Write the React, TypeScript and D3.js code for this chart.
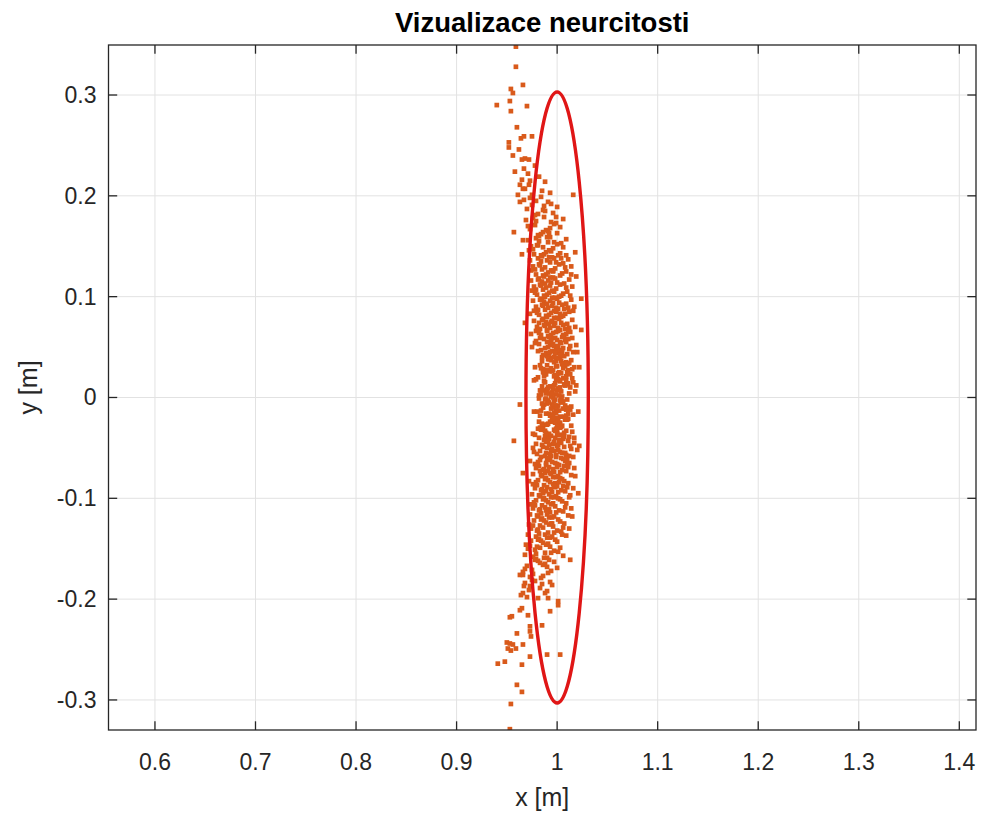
import React from "react";
import * as d3 from "d3";

// ---- Axis configuration (data units) ----
const xLimits: [number, number] = [0.5538, 1.4166];
const yLimits: [number, number] = [-0.3298, 0.3496];
const xTicks = [0.6, 0.7, 0.8, 0.9, 1.0, 1.1, 1.2, 1.3, 1.4];
const xTickLabels = ["0.6", "0.7", "0.8", "0.9", "1", "1.1", "1.2", "1.3", "1.4"];
const yTicks = [-0.3, -0.2, -0.1, 0, 0.1, 0.2, 0.3];
const yTickLabels = ["-0.3", "-0.2", "-0.1", "0", "0.1", "0.2", "0.3"];

const titleText = "Vizualizace neurcitosti";
const xLabelText = "x [m]";
const yLabelText = "y [m]";

// ---- Uncertainty ellipse ----
const ellipseCenter: [number, number] = [1.0, 0.0];
const ellipseRadii: [number, number] = [0.031, 0.303];

// ---- Scatter samples [x, y] in metres ----
const coreUpper: [number, number][] = [
  [0.994,0.001],[1.007,0.013],[0.986,0.007],[0.999,0.018],[1.012,0.004],[0.991,0.010],[1.003,0.016],[0.982,0.002],[1.008,0.012],[0.996,0.008],
  [1.015,0.019],[0.989,0.005],[0.998,0.014],[1.004,0.000],[0.993,0.011],[1.009,0.017],[0.984,0.003],[1.001,0.009],[0.988,0.015],[1.018,0.006],
  [0.997,0.012],[1.005,0.001],[0.979,0.018],[1.000,0.007],[1.010,0.013],[0.992,0.004],[1.013,0.010],[0.987,0.016],[1.002,0.002],[0.990,0.008],
  [1.006,0.019],[0.995,0.005],[1.011,0.014],[0.985,0.011],[0.999,0.003],[0.977,0.017],[1.004,0.006],[0.991,0.009],[1.016,0.015],[0.996,0.000],
  [1.008,0.012],[0.983,0.007],[1.001,0.018],[0.989,0.004],[1.003,0.010],
  [1.004,0.036],[0.988,0.023],[1.000,0.031],[1.011,0.027],[0.993,0.039],[0.997,0.021],[1.007,0.034],[0.984,0.029],[1.002,0.025],[1.014,0.037],
  [0.990,0.032],[0.998,0.022],[0.986,0.028],[1.009,0.035],[1.001,0.024],[0.992,0.038],[1.017,0.030],[0.995,0.026],[1.005,0.033],[0.981,0.020],
  [0.999,0.036],[1.008,0.031],[0.989,0.023],[1.003,0.039],[0.996,0.027],[1.012,0.034],[0.987,0.021],[1.006,0.029],[0.994,0.037],[1.010,0.025],
  [0.983,0.032],[1.000,0.022],[0.991,0.038],[1.015,0.028],[0.997,0.035],[1.004,0.024],[0.978,0.030],[1.007,0.033],[0.993,0.026],[1.001,0.039],
  [1.009,0.021],[0.985,0.036],[0.999,0.031],[0.990,0.027],[1.013,0.023],
  [0.990,0.041],[1.003,0.055],[0.984,0.047],[0.998,0.059],[1.010,0.043],[0.993,0.052],[1.006,0.049],[0.979,0.056],[1.001,0.044],[0.987,0.058],
  [1.013,0.051],[0.995,0.046],[0.982,0.053],[1.008,0.057],[0.997,0.040],[0.991,0.050],[1.016,0.045],[0.986,0.042],[1.004,0.054],[0.999,0.048],
  [0.975,0.050],[1.011,0.058],[0.994,0.056],[0.989,0.044],[1.007,0.041],[0.996,0.053],[1.002,0.047],[0.983,0.059],[1.019,0.052],[0.992,0.043],
  [1.000,0.057],[0.988,0.049],[1.005,0.045],[0.978,0.054],[0.997,0.051],[1.012,0.048],[0.985,0.040],[1.009,0.055],[0.994,0.058],[0.981,0.046],
  [1.003,0.042],[0.990,0.055],[1.015,0.059],[0.998,0.044],
  [0.991,0.061],[1.004,0.074],[0.983,0.068],[0.997,0.079],[1.009,0.063],[0.988,0.071],[1.001,0.066],[0.977,0.076],[1.012,0.069],[0.994,0.062],
  [0.986,0.078],[1.006,0.072],[0.999,0.065],[0.980,0.070],[1.015,0.077],[0.992,0.060],[1.003,0.067],[0.989,0.075],[0.996,0.064],[1.010,0.073],
  [0.984,0.062],[1.000,0.079],[0.993,0.069],[1.007,0.061],[0.979,0.066],[0.998,0.074],[1.013,0.065],[0.987,0.072],[1.002,0.078],[0.990,0.067],
  [1.018,0.070],[0.995,0.076],[0.982,0.064],[1.005,0.060],[0.997,0.071],[0.985,0.077],[1.008,0.068],[0.992,0.073],[0.974,0.063],[1.001,0.069],
  [0.994,0.075],[1.011,0.066],
  [0.989,0.081],[1.002,0.094],[0.981,0.087],[0.995,0.099],[1.008,0.083],[0.986,0.091],[0.999,0.085],[0.976,0.096],[1.011,0.089],[0.992,0.082],
  [0.984,0.098],[1.005,0.092],[0.997,0.086],[0.979,0.090],[1.014,0.097],[0.990,0.080],[1.001,0.088],[0.987,0.095],[0.994,0.084],[1.009,0.093],
  [0.982,0.082],[0.998,0.099],[0.991,0.089],[1.006,0.081],[0.977,0.086],[0.996,0.094],[1.012,0.085],[0.985,0.092],[1.000,0.098],[0.988,0.087],
  [1.017,0.090],[0.993,0.096],[0.980,0.084],[1.004,0.080],[0.995,0.091],[0.983,0.097],[1.007,0.088],[0.990,0.093],[0.973,0.083],[0.999,0.089],
  [0.987,0.101],[1.000,0.114],[0.979,0.107],[0.993,0.119],[1.006,0.103],[0.984,0.111],[0.997,0.105],[0.974,0.116],[1.009,0.109],[0.990,0.102],
  [0.982,0.118],[1.003,0.112],[0.995,0.106],[0.977,0.110],[1.012,0.117],[0.988,0.100],[0.999,0.108],[0.985,0.115],[0.992,0.104],[1.007,0.113],
  [0.980,0.102],[0.996,0.119],[0.989,0.109],[1.004,0.101],[0.975,0.106],[0.994,0.114],[1.010,0.105],[0.983,0.112],[0.998,0.118],[0.986,0.107],
  [1.015,0.110],[0.991,0.116],[0.978,0.104],[1.002,0.100],[0.993,0.111],[0.981,0.117],
  [0.986,0.121],[0.999,0.134],[0.978,0.127],[0.992,0.139],[1.005,0.123],[0.983,0.131],[0.996,0.125],[0.973,0.136],[1.008,0.129],[0.989,0.122],
  [0.981,0.138],[1.002,0.132],[0.994,0.126],[0.976,0.130],[1.011,0.137],[0.987,0.120],[0.998,0.128],[0.984,0.135],[0.991,0.124],[1.006,0.133],
  [0.979,0.122],[0.995,0.139],[0.988,0.129],[1.003,0.121],[0.974,0.126],[0.993,0.134],[1.009,0.125],[0.982,0.132],[0.997,0.138],[0.985,0.127],
  [1.014,0.130],[0.990,0.136],
  [0.984,0.141],[0.997,0.154],[0.976,0.147],[0.990,0.159],[1.003,0.143],[0.981,0.151],[0.994,0.145],[0.971,0.156],[1.006,0.149],[0.987,0.142],
  [0.979,0.158],[1.000,0.152],[0.992,0.146],[0.974,0.150],[1.009,0.157],[0.985,0.140],[0.996,0.148],[0.982,0.155],[0.989,0.144],[1.004,0.153],
  [0.977,0.142],[0.993,0.159],[0.986,0.149],[1.001,0.141],[0.972,0.146],[0.991,0.154],
  [0.981,0.161],[0.994,0.174],[0.973,0.167],[0.987,0.179],[1.000,0.163],[0.978,0.171],[0.991,0.165],[0.969,0.176],[1.003,0.169],[0.984,0.162],
  [0.976,0.178],[0.997,0.172],[0.989,0.166],[0.971,0.170],[1.006,0.177],[0.982,0.160],[0.993,0.168],[0.979,0.175],[0.986,0.164],[0.999,0.173],
  [0.978,0.181],[0.991,0.194],[0.970,0.187],[0.984,0.199],[0.996,0.183],[0.975,0.191],[0.988,0.185],[0.967,0.196],[1.000,0.189],[0.981,0.182],
  [0.973,0.198],[0.994,0.192],[0.986,0.186],[0.979,0.195],
  [0.975,0.201],[0.988,0.214],[0.968,0.207],[0.982,0.219],[0.993,0.203],[0.972,0.211],[0.985,0.205],[0.965,0.216],
];

const coreLower: [number, number][] = [
  [1.003,-0.019],[0.987,-0.007],[0.999,-0.013],[1.010,-0.002],[0.992,-0.016],[0.996,-0.010],[1.006,-0.004],[0.983,-0.018],[1.001,-0.008],[1.013,-0.012],
  [0.989,-0.001],[0.997,-0.015],[0.985,-0.006],[1.008,-0.020],[1.000,-0.009],[0.991,-0.003],[1.016,-0.017],[0.994,-0.011],[1.004,-0.005],[0.980,-0.014],
  [0.998,-0.008],[1.007,-0.019],[0.988,-0.002],[1.002,-0.013],[0.995,-0.007],[1.011,-0.016],[0.986,-0.010],[1.005,-0.004],[0.993,-0.018],[1.009,-0.012],
  [0.982,-0.001],[0.999,-0.015],[0.990,-0.006],[1.014,-0.009],[0.996,-0.017],[1.003,-0.003],[0.977,-0.014],[1.006,-0.011],[0.992,-0.005],[1.000,-0.020],
  [1.008,-0.008],[0.984,-0.013],[0.998,-0.002],[0.989,-0.016],[1.012,-0.010],
  [0.993,-0.024],[1.006,-0.037],[0.985,-0.029],[0.998,-0.033],[1.011,-0.021],[0.990,-0.039],[1.002,-0.026],[0.981,-0.031],[1.007,-0.035],[0.995,-0.023],
  [1.014,-0.028],[0.988,-0.038],[0.997,-0.032],[1.003,-0.025],[0.992,-0.036],[1.008,-0.022],[0.983,-0.030],[1.000,-0.034],[0.987,-0.027],[1.017,-0.040],
  [0.996,-0.024],[1.004,-0.029],[0.978,-0.037],[0.999,-0.021],[1.009,-0.033],[0.991,-0.026],[1.012,-0.039],[0.986,-0.031],[1.001,-0.023],[0.989,-0.035],
  [1.005,-0.028],[0.994,-0.038],[1.010,-0.022],[0.984,-0.032],[0.998,-0.025],[0.976,-0.036],[1.003,-0.030],[0.990,-0.027],[1.015,-0.034],[0.995,-0.021],
  [1.007,-0.039],[0.982,-0.024],[1.000,-0.029],[0.988,-0.033],[1.002,-0.037],
  [0.992,-0.041],[1.005,-0.055],[0.985,-0.047],[0.999,-0.059],[1.011,-0.043],[0.994,-0.052],[1.007,-0.049],[0.980,-0.056],[1.002,-0.044],[0.988,-0.058],
  [1.014,-0.051],[0.996,-0.046],[0.983,-0.053],[1.009,-0.057],[0.998,-0.040],[0.990,-0.050],[1.017,-0.045],[0.987,-0.042],[1.003,-0.054],[1.000,-0.048],
  [0.976,-0.050],[1.012,-0.058],[0.993,-0.056],[0.989,-0.044],[1.006,-0.041],[0.997,-0.053],[1.001,-0.047],[0.984,-0.059],[1.020,-0.052],[0.991,-0.043],
  [0.999,-0.057],[0.986,-0.049],[1.004,-0.045],[0.977,-0.054],[0.995,-0.051],[1.013,-0.048],[0.982,-0.040],[1.008,-0.055],[0.994,-0.058],[0.979,-0.046],
  [1.002,-0.042],[0.989,-0.055],[1.016,-0.059],[0.997,-0.044],
  [0.990,-0.061],[1.003,-0.074],[0.982,-0.068],[0.996,-0.079],[1.008,-0.063],[0.987,-0.071],[1.000,-0.066],[0.976,-0.076],[1.011,-0.069],[0.993,-0.062],
  [0.985,-0.078],[1.005,-0.072],[0.998,-0.065],[0.979,-0.070],[1.014,-0.077],[0.991,-0.060],[1.002,-0.067],[0.988,-0.075],[0.995,-0.064],[1.009,-0.073],
  [0.983,-0.062],[0.999,-0.079],[0.992,-0.069],[1.006,-0.061],[0.978,-0.066],[0.997,-0.074],[1.012,-0.065],[0.986,-0.072],[1.001,-0.078],[0.989,-0.067],
  [1.017,-0.070],[0.994,-0.076],[0.981,-0.064],[1.004,-0.060],[0.996,-0.071],[0.984,-0.077],[1.007,-0.068],[0.991,-0.073],[0.973,-0.063],[1.000,-0.069],
  [0.993,-0.075],[1.010,-0.066],
  [0.988,-0.081],[1.001,-0.094],[0.980,-0.087],[0.994,-0.099],[1.007,-0.083],[0.985,-0.091],[0.998,-0.085],[0.975,-0.096],[1.010,-0.089],[0.991,-0.082],
  [0.983,-0.098],[1.004,-0.092],[0.996,-0.086],[0.978,-0.090],[1.013,-0.097],[0.989,-0.080],[1.000,-0.088],[0.986,-0.095],[0.993,-0.084],[1.008,-0.093],
  [0.981,-0.082],[0.997,-0.099],[0.990,-0.089],[1.005,-0.081],[0.976,-0.086],[0.995,-0.094],[1.011,-0.085],[0.984,-0.092],[0.999,-0.098],[0.987,-0.087],
  [1.016,-0.090],[0.992,-0.096],[0.979,-0.084],[1.003,-0.080],[0.994,-0.091],[0.982,-0.097],[1.006,-0.088],[0.989,-0.093],[0.972,-0.083],[0.998,-0.089],
  [0.986,-0.101],[0.999,-0.114],[0.978,-0.107],[0.992,-0.119],[1.005,-0.103],[0.983,-0.111],[0.996,-0.105],[0.973,-0.116],[1.008,-0.109],[0.989,-0.102],
  [0.981,-0.118],[1.002,-0.112],[0.994,-0.106],[0.976,-0.110],[1.011,-0.117],[0.987,-0.100],[0.998,-0.108],[0.984,-0.115],[0.991,-0.104],[1.006,-0.113],
  [0.979,-0.102],[0.995,-0.119],[0.988,-0.109],[1.003,-0.101],[0.974,-0.106],[0.993,-0.114],[1.009,-0.105],[0.982,-0.112],[0.997,-0.118],[0.985,-0.107],
  [1.014,-0.110],[0.990,-0.116],[0.977,-0.104],[1.001,-0.100],[0.992,-0.111],[0.980,-0.117],
  [0.984,-0.121],[0.997,-0.134],[0.976,-0.127],[0.990,-0.139],[1.003,-0.123],[0.981,-0.131],[0.994,-0.125],[0.971,-0.136],[1.006,-0.129],[0.987,-0.122],
  [0.979,-0.138],[1.000,-0.132],[0.992,-0.126],[0.974,-0.130],[1.009,-0.137],[0.985,-0.120],[0.996,-0.128],[0.982,-0.135],[0.989,-0.124],[1.004,-0.133],
  [0.977,-0.122],[0.993,-0.139],[0.986,-0.129],[1.001,-0.121],[0.972,-0.126],[0.991,-0.134],[1.007,-0.125],[0.980,-0.132],[0.995,-0.138],[0.983,-0.127],
  [1.012,-0.130],[0.988,-0.136],
  [0.981,-0.141],[0.994,-0.154],[0.973,-0.147],[0.987,-0.159],[1.000,-0.143],[0.978,-0.151],[0.991,-0.145],[0.968,-0.156],[1.003,-0.149],[0.984,-0.142],
  [0.976,-0.158],[0.997,-0.152],[0.989,-0.146],[0.971,-0.150],[1.006,-0.157],[0.982,-0.140],[0.993,-0.148],[0.979,-0.155],[0.986,-0.144],[1.001,-0.153],
  [0.974,-0.142],[0.990,-0.159],[0.983,-0.149],[0.998,-0.141],[0.969,-0.146],[0.988,-0.154],
  [0.978,-0.161],[0.991,-0.174],[0.970,-0.167],[0.984,-0.179],[0.997,-0.163],[0.975,-0.171],[0.988,-0.165],[0.966,-0.176],[1.000,-0.169],[0.981,-0.162],
  [0.973,-0.178],[0.994,-0.172],[0.986,-0.166],[0.968,-0.170],[0.979,-0.160],[0.990,-0.168],[0.976,-0.175],[0.983,-0.164],
  [0.975,-0.181],[0.988,-0.194],[0.967,-0.187],[0.981,-0.199],[0.993,-0.183],[0.972,-0.191],[0.985,-0.185],[0.964,-0.196],[0.978,-0.182],[0.970,-0.198],
  [0.990,-0.192],[0.983,-0.189],
];

// additional samples filling gaps in the dense core
const coreExtra: [number, number][] = [
  [0.995,0.004],[1.002,0.017],[0.986,0.025],[1.010,0.033],[0.993,0.045],[1.006,0.062],[0.982,0.074],[0.999,0.087],[1.013,0.101],[0.988,0.113],
  [0.996,0.126],[1.004,0.138],[0.980,0.151],[0.992,0.163],[0.999,0.179],[0.987,0.190],[0.997,-0.004],[1.009,-0.018],[0.985,-0.026],[1.000,-0.036],
  [0.992,-0.047],[1.010,-0.061],[0.983,-0.073],[0.997,-0.088],[1.012,-0.099],[0.989,-0.112],[0.995,-0.125],[1.005,-0.136],[0.980,-0.148],[0.992,-0.161],
  [0.986,-0.177],[0.995,-0.186],[1.001,0.051],[0.990,0.066],[1.003,0.083],[0.985,0.097],[1.001,-0.052],[0.989,-0.065],[1.002,-0.084],[0.986,-0.094],
  [0.994,0.029],[0.999,-0.031],[1.019,0.012],[1.021,-0.014],[1.020,0.045],[1.022,-0.048],[1.016,0.086],[1.018,-0.078],[1.014,0.122],[1.015,-0.118],
];

const outliersUpper: [number, number][] = [
  [0.959,0.348],[0.959,0.328],[0.966,0.310],[0.954,0.306],[0.956,0.302],[0.940,0.290],[0.953,0.294],[0.954,0.284],[0.970,0.289],[0.960,0.268],
  [0.964,0.257],[0.967,0.259],[0.975,0.259],[0.952,0.253],[0.952,0.248],[0.962,0.246],[0.956,0.240],[0.965,0.236],[0.968,0.237],[0.972,0.236],
  [0.978,0.230],[0.958,0.224],[0.967,0.227],[0.971,0.222],[0.973,0.215],[0.963,0.211],[0.966,0.207],[0.961,0.201],[1.016,0.201],[0.963,0.194],
  [0.957,0.164],[0.966,0.156],[0.965,0.142],[1.018,0.144],[1.009,0.141],[1.019,0.120],[1.024,0.098],[0.968,0.074],[1.024,0.067],[1.022,0.030],
];

const outliersLower: [number, number][] = [
  [0.963,-0.007],[0.957,-0.043],[0.966,-0.075],[1.021,-0.095],[1.013,-0.161],[0.966,-0.173],[0.963,-0.176],[0.968,-0.184],[0.966,-0.194],[0.973,-0.187],
  [0.991,-0.199],[1.001,-0.202],[1.001,-0.206],[0.953,-0.218],[0.963,-0.211],[0.955,-0.217],[0.965,-0.209],[0.971,-0.216],[0.993,-0.212],[0.973,-0.227],
  [0.973,-0.232],[0.974,-0.237],[0.960,-0.234],[0.985,-0.226],[0.950,-0.243],[0.953,-0.244],[0.956,-0.245],[0.951,-0.249],[0.954,-0.251],[0.959,-0.249],
  [0.966,-0.245],[0.973,-0.257],[0.941,-0.264],[0.948,-0.262],[0.965,-0.265],[0.990,-0.255],[1.003,-0.255],[0.960,-0.285],[0.965,-0.292],[0.954,-0.304],
  [0.953,-0.329],
];

// ---- Styles ----
const FONT = "'Liberation Sans', Arial, Helvetica, sans-serif";
const AXIS_COLOR = "#262626";
const GRID_COLOR = "#e2e2e2";
const POINT_COLOR = "#d95a1b";
const ELLIPSE_COLOR = "#e01616";

export default function App() {
  const W = 984;
  const H = 816;
  const m = { left: 108.5, right: 976, top: 45, bottom: 730 };

  const x = d3.scaleLinear().domain(xLimits).range([m.left, m.right]);
  const y = d3.scaleLinear().domain(yLimits).range([m.bottom, m.top]);

  const tickLen = 8.7;
  const allPoints = [...coreUpper, ...coreLower, ...coreExtra, ...outliersUpper, ...outliersLower];
  const ms = 4.7;

  const cx = x(ellipseCenter[0]);
  const cy = y(ellipseCenter[1]);
  const rx = x(ellipseCenter[0] + ellipseRadii[0]) - cx;
  const ry = cy - y(ellipseCenter[1] + ellipseRadii[1]);

  return (
    <svg
      width={W}
      height={H}
      style={{ position: "absolute", left: 0, top: 0, background: "#fff" }}
      fontFamily={FONT}
    >
      <rect x={0} y={0} width={W} height={H} fill="#fff" />
      <defs>
        <clipPath id="plotClip">
          <rect x={m.left} y={m.top} width={m.right - m.left} height={m.bottom - m.top} />
        </clipPath>
      </defs>

      {/* grid */}
      <g>
        {xTicks.map((t, i) => (
          <line key={"gx" + i} x1={x(t)} x2={x(t)} y1={m.top} y2={m.bottom} stroke={GRID_COLOR} strokeWidth={1} />
        ))}
        {yTicks.map((t, i) => (
          <line key={"gy" + i} x1={m.left} x2={m.right} y1={y(t)} y2={y(t)} stroke={GRID_COLOR} strokeWidth={1} />
        ))}
      </g>

      {/* scatter */}
      <g clipPath="url(#plotClip)">
        {allPoints.map((p, i) => (
          <rect key={"p" + i} x={x(p[0]) - ms / 2} y={y(p[1]) - ms / 2} width={ms} height={ms} fill={POINT_COLOR} />
        ))}
      </g>

      {/* ellipse */}
      <g clipPath="url(#plotClip)">
        <ellipse cx={cx} cy={cy} rx={rx} ry={ry} fill="none" stroke={ELLIPSE_COLOR} strokeWidth={3.4} />
      </g>

      {/* box */}
      <rect x={m.left} y={m.top} width={m.right - m.left} height={m.bottom - m.top} fill="none" stroke={AXIS_COLOR} strokeWidth={1.3} />

      {/* ticks */}
      <g stroke={AXIS_COLOR} strokeWidth={1.3}>
        {xTicks.map((t, i) => (
          <g key={"tx" + i}>
            <line x1={x(t)} x2={x(t)} y1={m.bottom} y2={m.bottom - tickLen} />
            <line x1={x(t)} x2={x(t)} y1={m.top} y2={m.top + tickLen} />
          </g>
        ))}
        {yTicks.map((t, i) => (
          <g key={"ty" + i}>
            <line x1={m.left} x2={m.left + tickLen} y1={y(t)} y2={y(t)} />
            <line x1={m.right} x2={m.right - tickLen} y1={y(t)} y2={y(t)} />
          </g>
        ))}
      </g>

      {/* tick labels */}
      <g fill={AXIS_COLOR} fontSize={23}>
        {xTicks.map((t, i) => (
          <text key={"lx" + i} x={x(t)} y={770} textAnchor="middle">
            {xTickLabels[i]}
          </text>
        ))}
        {yTicks.map((t, i) => (
          <text key={"ly" + i} x={m.left - 12} y={y(t)} textAnchor="end" dominantBaseline="central">
            {yTickLabels[i]}
          </text>
        ))}
      </g>

      {/* axis labels */}
      <text x={(m.left + m.right) / 2} y={806} textAnchor="middle" fontSize={25} fill={AXIS_COLOR}>
        {xLabelText}
      </text>
      <text
        transform={`translate(37, ${(m.top + m.bottom) / 2}) rotate(-90)`}
        textAnchor="middle"
        fontSize={25}
        fill={AXIS_COLOR}
      >
        {yLabelText}
      </text>

      {/* title */}
      <text x={(m.left + m.right) / 2} y={31.5} textAnchor="middle" fontSize={27.5} fontWeight="bold" fill="#000">
        {titleText}
      </text>
    </svg>
  );
}
